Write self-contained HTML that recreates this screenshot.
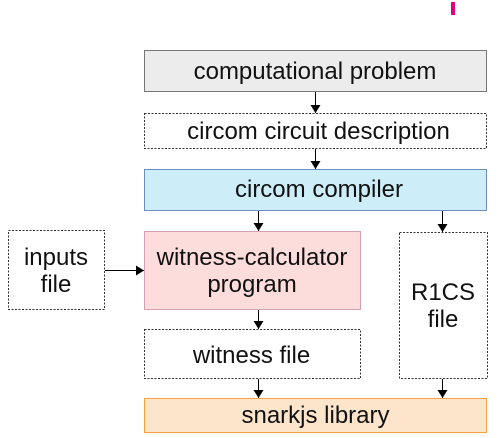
<!DOCTYPE html>
<html><head><style>html,body{margin:0;padding:0;background:#fff}svg{display:block}text{font-family:"Liberation Sans",sans-serif;font-size:24px;fill:#111;text-anchor:middle}</style></head>
<body>
<svg width="503" height="438" viewBox="0 0 503 438" xmlns="http://www.w3.org/2000/svg">
<defs><marker id="a" markerWidth="8" markerHeight="10" refX="8" refY="5" orient="auto" markerUnits="userSpaceOnUse"><path d="M0,0 L8,5 L0,10 z" fill="#000"/></marker></defs>
<rect x="451" y="2" width="4" height="13" fill="#e6007e"/>
<rect x="144.5" y="50.5" width="342" height="41" fill="#ececec" stroke="#777"/>
<text x="315" y="79">computational problem</text>
<rect x="144.5" y="113.5" width="342" height="35" fill="#fff" stroke="#333" stroke-dasharray="2,1.5"/>
<text x="318.5" y="139">circom circuit description</text>
<rect x="144.5" y="169.5" width="342" height="41" fill="#cdeef9" stroke="#6c8ebf"/>
<text x="319" y="197">circom compiler</text>
<rect x="8.5" y="230.5" width="96" height="79" fill="#fff" stroke="#333" stroke-dasharray="2,1.5"/>
<text x="56" y="265">inputs</text><text x="56" y="292">file</text>
<rect x="144.5" y="231.5" width="216" height="78" fill="#fddcdc" stroke="#d4a0b5"/>
<text x="252" y="265">witness-calculator</text><text x="252" y="292">program</text>
<rect x="399.5" y="232.5" width="88" height="146" fill="#fff" stroke="#333" stroke-dasharray="2,1.5"/>
<text x="443" y="300">R1CS</text><text x="443" y="327">file</text>
<rect x="144.5" y="329.5" width="216" height="49" fill="#fff" stroke="#333" stroke-dasharray="2,1.5"/>
<text x="251.5" y="363">witness file</text>
<rect x="144.5" y="398.5" width="342" height="34" fill="#fde5cc" stroke="#f8a040"/>
<text x="315.5" y="423">snarkjs library</text>
<g stroke="#000" stroke-width="1" marker-end="url(#a)">
<line x1="315.5" y1="92" x2="315.5" y2="113"/>
<line x1="315.5" y1="149" x2="315.5" y2="169"/>
<line x1="258.5" y1="211" x2="258.5" y2="231"/>
<line x1="442.5" y1="211" x2="442.5" y2="232"/>
<line x1="258.5" y1="310" x2="258.5" y2="329"/>
<line x1="258.5" y1="379" x2="258.5" y2="398"/>
<line x1="442.5" y1="379" x2="442.5" y2="398"/>
<line x1="105" y1="270.5" x2="144" y2="270.5"/>
</g>
</svg>
</body></html>
